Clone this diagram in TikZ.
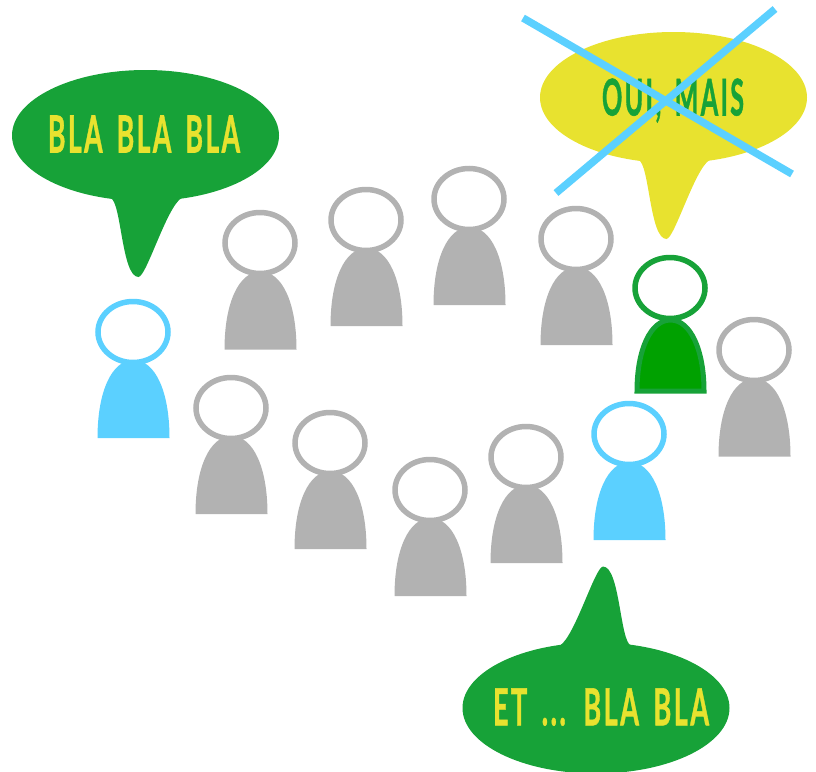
\documentclass[tikz,border=0pt]{standalone}
\usepackage{graphicx}
\usepackage{fontspec}
\setmainfont{Lato}[LetterSpace=9,WordSpace=1.6,FakeBold=1.2]
\usetikzlibrary{shapes.geometric}
\definecolor{vert}{HTML}{17A238}
\definecolor{vertfonce}{HTML}{00A100}
\definecolor{jaune}{HTML}{E8E22F}
\definecolor{bleu}{HTML}{5BD0FF}
\definecolor{gris}{HTML}{B2B2B2}
\tikzset{
  head/.style={ellipse,draw,fill=white,line width=5.5pt,minimum width=70pt,minimum height=61pt,inner sep=0pt},
  bubble/.style={ellipse,minimum width=267pt,minimum height=131pt,inner sep=0pt},
  cross/.style={draw=bleu,line width=7.5pt},
  label/.style={inner sep=0pt,outer sep=0pt}
}
% \personne{name}{head x}{head y}{body bottom}{colour}
\newcommand{\personne}[5]{%
  \fill[#5] (#2-35.5,#4) .. controls (#2-35.5,#4-47) and (#2-21,#4-78) .. (#2+0.5,#4-78)
     .. controls (#2+22,#4-78) and (#2+36.5,#4-47) .. (#2+36.5,#4) -- cycle;
  \node[head,draw=#5] (#1) at (#2,#3) {};
}
% \queue{x}{y}{sign}{colour}: tail of a speech bubble
\newcommand{\queue}[4]{%
  \fill[#4,shift={(#1,#2)},scale=#3] (-35,55) -- (-35,62.5) .. controls (-24,66) and (-24,141.5) .. (-7,141.5)
     .. controls (1,141) and (21,72) .. (36,62.5) -- (36,55) -- cycle;
}
\begin{document}
\begin{tikzpicture}[x=1pt,y=-1pt]
\useasboundingbox (0,0) rectangle (816,771);
% speech bubbles
\queue{145.5}{135.5}{1}{vert}
\node[bubble,fill=vert] (b1) at (145.5,135.5) {};
\node[label,text=jaune] (t1) at (144,134) {\resizebox{192pt}{37pt}{\bfseries BLA BLA BLA}};
\queue{673.5}{97.5}{1}{jaune}
\node[bubble,fill=jaune] (b2) at (673.5,97.5) {};
\node[label,text=vert,anchor=base,yshift=-18.5pt] (t2) at (673,97) {\resizebox{142pt}{37pt}{\bfseries OUI, MAIS}};
\queue{596}{708}{-1}{vert}
\node[bubble,fill=vert] (b3) at (596,708) {};
\node[label,text=jaune] (t3) at (601,707) {\resizebox{216pt}{37pt}{\bfseries ET ... BLA BLA}};
% cross
\coordinate (c1) at (523,18);
\coordinate (c2) at (792,174);
\coordinate (c3) at (775,9);
\coordinate (c4) at (556,193);
\draw[cross] (c1) -- (c2);
\draw[cross] (c3) -- (c4);
% people
\personne{p1}{133}{332}{438}{bleu}
\personne{p2}{260}{243}{349.5}{gris}
\personne{p3}{366}{220}{326}{gris}
\personne{p4}{469}{199}{305}{gris}
\personne{p5}{576}{239}{345}{gris}
\personne{p6}{754}{350}{456.5}{gris}
\personne{p7}{629}{434}{540}{bleu}
\personne{p8}{526}{457}{563}{gris}
\personne{p9}{430}{490}{596}{gris}
\personne{p10}{330}{443}{549}{gris}
\personne{p11}{231}{408}{514}{gris}
% green person
\filldraw[fill=vertfonce,draw=vert,line width=5pt,miter limit=2]
  (670.5-33.5,391) .. controls (670.5-33.5,350) and (670.5-20,320) .. (670.5,320)
  .. controls (670.5+20,320) and (670.5+33.5,350) .. (670.5+33.5,391) -- cycle;
\node[head,draw=vert] (p12) at (670,288) {};
\end{tikzpicture}
\end{document}
